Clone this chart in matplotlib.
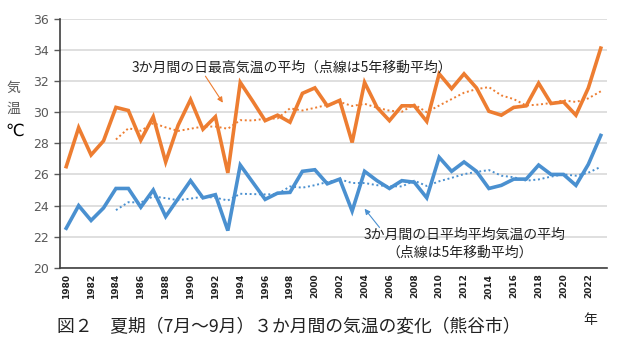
"""Summer (Jul-Sep) temperature trend chart for Kumagaya."""

import matplotlib

matplotlib.use("Agg")
import matplotlib.pyplot as plt

plt.rcParams["font.family"] = ["Noto Sans CJK JP", "DejaVu Sans"]

years = list(range(1980, 2024))

max_temp = [
    26.5, 29.0, 27.25, 28.15, 30.3, 30.1, 28.2, 29.7, 26.8, 29.15,
    30.8, 28.9, 29.7, 26.1, 31.9, 30.7, 29.45, 29.8, 29.35, 31.2,
    31.55, 30.4, 30.75, 28.05, 31.9, 30.3, 29.45, 30.4, 30.4, 29.4,
    32.45, 31.5, 32.45, 31.55, 30.05, 29.8, 30.3, 30.4, 31.85, 30.55,
    30.65, 29.8, 31.55, 34.1,
]
max_ma_years = list(range(1984, 2024))
max_ma = [
    28.24, 28.96, 28.8, 29.29, 29.02, 28.79, 28.93, 29.07, 29.07, 28.93,
    29.48, 29.46, 29.57, 29.59, 30.24, 30.1, 30.27, 30.46, 30.65, 30.39,
    30.53, 30.28, 30.09, 30.02, 30.49, 29.99, 30.42, 30.83, 31.24, 31.47,
    31.6, 31.07, 30.83, 30.42, 30.48, 30.58, 30.75, 30.65, 30.88, 31.33,
]

mean_temp = [
    22.55, 24.0, 23.05, 23.85, 25.1, 25.1, 23.9, 25.0, 23.3, 24.45,
    25.6, 24.5, 24.7, 22.4, 26.6, 25.5, 24.4, 24.8, 24.85, 26.2,
    26.3, 25.4, 25.7, 23.65, 26.2, 25.6, 25.1, 25.6, 25.5, 24.5,
    27.1, 26.2, 26.8, 26.2, 25.1, 25.3, 25.7, 25.7, 26.6, 26.0,
    26.0, 25.3, 26.65, 28.5,
]
mean_ma = [
    23.71, 24.22, 24.2, 24.59, 24.48, 24.35, 24.45, 24.57, 24.51, 24.33,
    24.76, 24.74, 24.72, 24.74, 25.23, 25.15, 25.31, 25.51, 25.69, 25.45,
    25.45, 25.31, 25.25, 25.23, 25.6, 25.26, 25.56, 25.78, 26.02, 26.16,
    26.28, 25.92, 25.82, 25.6, 25.68, 25.86, 26.0, 25.92, 26.11, 26.49,
]

y_ticks = [20, 22, 24, 26, 28, 30, 32, 34, 36]
x_tick_years = list(range(1980, 2024, 2))

orange = "#ED7D31"
blue = "#4A90D0"

fig = plt.figure(figsize=(6.23, 3.6), dpi=100)
ax = fig.add_axes([60 / 623, 1 - 268 / 360, 547 / 623, 249.5 / 360])

ax.plot(years, max_temp, color=orange, linewidth=2.6, solid_joinstyle="miter")
ax.plot(max_ma_years, max_ma, color=orange, linewidth=1.4, linestyle=(0, (1, 1.4)))
ax.plot(years, mean_temp, color=blue, linewidth=2.6, solid_joinstyle="miter")
ax.plot(max_ma_years, mean_ma, color=blue, linewidth=1.4, linestyle=(0, (1, 1.4)))

ax.set_xlim(years[0] - 0.5, years[-1] + 0.5)
ax.set_ylim(20, 36)
ax.set_yticks(y_ticks)
ax.set_yticklabels([str(v) for v in y_ticks], color="#595959", fontsize=9,
                   family="DejaVu Sans")
ax.set_xticks(x_tick_years)
ax.set_xticklabels([str(v) for v in x_tick_years], rotation=90, fontsize=6.5,
                   fontweight="bold", family="DejaVu Sans", color="#222222")
ax.tick_params(axis="x", length=0, pad=4)
ax.tick_params(axis="y", length=4, width=1, color="#595959", pad=4)

ax.grid(axis="y", color="#D9D9D9", linewidth=1.2)
ax.set_axisbelow(True)
for side in ("top", "right"):
    ax.spines[side].set_visible(False)
ax.spines["left"].set_color("#404040")
ax.spines["bottom"].set_color("#404040")
ax.spines["left"].set_linewidth(1.2)
ax.spines["bottom"].set_linewidth(1.2)

# y label stacked vertically
fig.text(13 / 623, 1 - 88 / 360, "気", fontsize=10, color="#595959", ha="center", va="center")
fig.text(13 / 623, 1 - 109 / 360, "温", fontsize=10, color="#595959", ha="center", va="center")
fig.text(15 / 623, 1 - 131 / 360, "℃", fontsize=12, color="black", ha="center", va="center",
         family=["DejaVu Sans"])

# annotations
fig.text(132 / 623, 1 - 68 / 360, "3か月間の日最高気温の平均（点線は5年移動平均）",
         fontsize=10, color="#222222", ha="left", va="center")
ax.annotate("", xy=(1992.6, 30.6), xytext=(1991.2, 32.3),
            arrowprops=dict(arrowstyle="-|>", color=orange, lw=0.8,
                            mutation_scale=8, shrinkA=0, shrinkB=0))

fig.text(465 / 623, 1 - 235 / 360, "3か月間の日平均平均気温の平均",
         fontsize=10, color="#222222", ha="center", va="center")
fig.text(460 / 623, 1 - 253 / 360, "（点線は5年移動平均）",
         fontsize=10, color="#222222", ha="center", va="center")
ax.annotate("", xy=(2004.0, 23.8), xytext=(2005.2, 22.6),
            arrowprops=dict(arrowstyle="-|>", color=blue, lw=0.8,
                            mutation_scale=8, shrinkA=0, shrinkB=0))

fig.text(57 / 623, 1 - 327 / 360, "図２　夏期（7月～9月）３か月間の気温の変化（熊谷市）",
         fontsize=12.8, color="#222222", ha="left", va="center")
fig.text(590 / 623, 1 - 320 / 360, "年", fontsize=10, color="#222222", ha="center", va="center")

fig.savefig("out.png", dpi=100)
